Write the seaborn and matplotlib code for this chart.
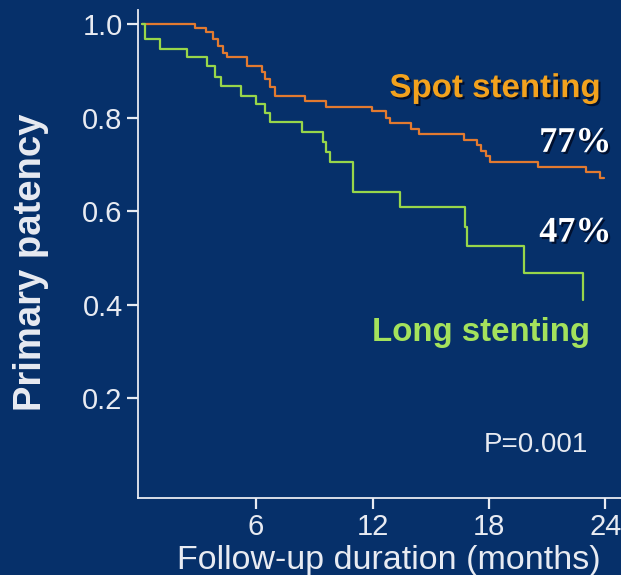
import matplotlib
matplotlib.use("Agg")
import matplotlib.pyplot as plt
import matplotlib.patheffects as pe
import seaborn as sns
import pandas as pd

# ---- data ----
spot_months = [0.15, 2.85, 3.41, 3.77, 4.03, 4.29, 4.49, 5.51, 6.30, 6.45, 6.70, 6.97,
               8.50, 9.63, 11.95, 12.70, 12.90, 14.00, 14.40, 16.70, 17.40, 17.60,
               17.85, 18.05, 20.50, 23.00, 23.70, 23.90]
spot_patency = [1.000, 0.991, 0.982, 0.968, 0.953, 0.939, 0.929, 0.911, 0.897, 0.883,
                0.865, 0.847, 0.836, 0.823, 0.815, 0.800, 0.789, 0.776, 0.764, 0.753,
                0.741, 0.729, 0.717, 0.705, 0.694, 0.683, 0.671, 0.671]

long_months = [0.15, 0.27, 1.06, 2.42, 3.45, 3.88, 4.22, 5.25, 6.00, 6.45, 6.70, 8.35,
               9.45, 9.60, 9.80, 11.00, 13.40, 16.75, 16.85, 19.80, 22.86]
long_patency = [1.000, 0.967, 0.947, 0.929, 0.911, 0.886, 0.868, 0.847, 0.830, 0.810,
                0.790, 0.769, 0.747, 0.726, 0.705, 0.641, 0.610, 0.566, 0.525, 0.468,
                0.411]

groups = ["Spot stenting", "Long stenting"]
x_ticks = [6, 12, 18, 24]
y_ticks = [0.2, 0.4, 0.6, 0.8, 1.0]
y_ticklabels = ["0.2", "0.4", "0.6", "0.8", "1.0"]
end_labels = ["77%", "47%"]
p_value_text = "P=0.001"

# ---- style ----
BG = "#06306a"
FG = "#e8ebf2"
ORANGE = "#e27a30"
GREEN = "#98d64a"
ORANGE_TXT = "#f2a21e"
GREEN_TXT = "#a4e25c"

sns.set_theme(style="white")
plt.rcParams["font.family"] = ["Liberation Sans", "DejaVu Sans"]

df = pd.concat([
    pd.DataFrame({"month": spot_months, "patency": spot_patency, "group": groups[0]}),
    pd.DataFrame({"month": long_months, "patency": long_patency, "group": groups[1]}),
], ignore_index=True)

fig = plt.figure(figsize=(6.21, 5.75), dpi=100, facecolor=BG)
ax = fig.add_axes([0.2222, 0.1339, 0.7778, 0.8487])
ax.set_facecolor(BG)

sns.lineplot(data=df, x="month", y="patency", hue="group",
             palette={groups[0]: ORANGE, groups[1]: GREEN},
             estimator=None, sort=False, drawstyle="steps-post",
             linewidth=1.6, legend=False, ax=ax)

ax.set_xlim(-0.08, 24.8)
ax.set_ylim(-0.013, 1.03)
ax.set_xticks(x_ticks)
ax.set_xticklabels([str(t) for t in x_ticks])
ax.set_yticks(y_ticks)
ax.set_yticklabels(y_ticklabels)

for s in ["top", "right"]:
    ax.spines[s].set_visible(False)
for s in ["left", "bottom"]:
    ax.spines[s].set_color(FG)
    ax.spines[s].set_linewidth(1.3)

ax.tick_params(axis="both", colors=FG, labelcolor=FG, labelsize=21,
               length=8, width=1.6, direction="out", bottom=True, left=True, pad=3)

ax.set_xlabel("Follow-up duration (months)", color=FG, fontsize=24.5)
ax.xaxis.set_label_coords(0.52, -0.097, transform=ax.transAxes)
ax.xaxis.label.set_va("top")
ax.set_ylabel("Primary patency", color=FG, fontsize=27.5, fontweight="bold")
ax.yaxis.set_label_coords(-0.222, 0.484, transform=ax.transAxes)
ax.yaxis.label.set_va("center")
ax.yaxis.label.set_ha("center")

shadow = [pe.SimplePatchShadow(offset=(1.5, -1.5), shadow_rgbFace="#000820", alpha=0.8), pe.Normal()]

ax.text(18.3, 0.862, groups[0], color=ORANGE_TXT, fontsize=23.8, fontweight="bold",
        ha="center", va="center", path_effects=shadow)
ax.text(17.6, 0.341, groups[1], color=GREEN_TXT, fontsize=23.8, fontweight="bold",
        ha="center", va="center")
ax.text(22.45, 0.745, end_labels[0], color="white", fontsize=26, fontweight="bold",
        family=["Liberation Serif", "DejaVu Serif"], ha="center", va="center",
        path_effects=shadow)
ax.text(22.45, 0.553, end_labels[1], color="white", fontsize=26, fontweight="bold",
        family=["Liberation Serif", "DejaVu Serif"], ha="center", va="center",
        path_effects=shadow)
ax.text(20.4, 0.10, p_value_text, color=FG, fontsize=20, ha="center", va="center")

fig.savefig("out.png", dpi=100, facecolor=BG)
